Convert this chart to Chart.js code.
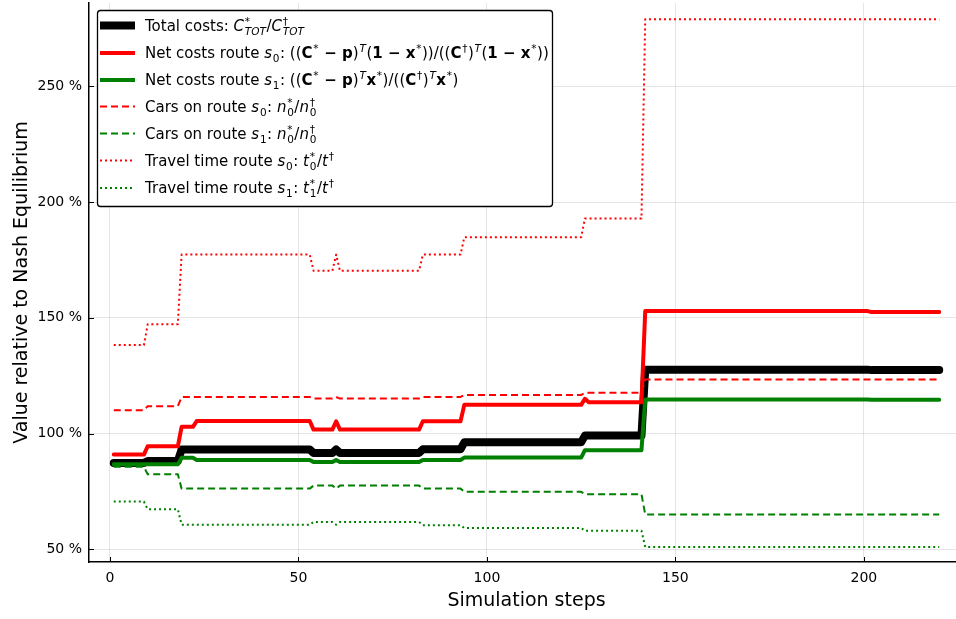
<!DOCTYPE html>
<html>
<head>
<meta charset="utf-8">
<script src="https://cdn.jsdelivr.net/npm/chart.js@4/dist/chart.umd.min.js"></script>
<style>
html,body{margin:0;padding:0;background:#fff;overflow:hidden;width:956px;height:619px;}
canvas{display:block;}
</style>
</head>
<body>
<canvas id="c" width="965" height="619" style="width:965px;height:619px"></canvas>
<script>
// Simulation steps at which the series change (breakpoints of the step curves)
const steps = [1, 9, 10, 18, 19, 22, 23, 53, 54, 59, 60, 61, 82, 83, 93, 94, 125, 126, 127, 141, 142, 201, 202, 220];

// Values (% of Nash equilibrium) at each breakpoint
const totalCosts    = [87.3, 87.3, 88.1, 88.1, 93.1, 93.1, 93.1, 93.1, 91.6, 91.6, 93.1, 91.6, 91.6, 93.2, 93.2, 96.2, 96.2, 99.1, 99.1, 99.1, 127.6, 127.6, 127.4, 127.4];
const netCostsS0    = [90.9, 90.9, 94.5, 94.5, 102.9, 102.9, 105.4, 105.4, 101.7, 101.7, 105.3, 101.7, 101.7, 105.3, 105.3, 112.4, 112.4, 115.0, 113.5, 113.5, 152.9, 152.9, 152.5, 152.5];
const netCostsS1    = [86.7, 86.7, 86.7, 86.7, 89.5, 89.5, 88.6, 88.6, 87.7, 87.7, 88.6, 87.7, 87.7, 88.6, 88.6, 89.6, 89.6, 92.8, 92.8, 92.8, 114.7, 114.7, 114.6, 114.6];
const carsS0        = [110.1, 110.1, 111.8, 111.8, 115.8, 115.8, 115.8, 115.8, 115.1, 115.1, 115.8, 115.1, 115.1, 115.8, 115.8, 116.7, 116.7, 117.6, 117.6, 117.6, 123.3, 123.3, 123.3, 123.3];
const carsS1        = [85.6, 85.6, 82.4, 82.4, 76.2, 76.2, 76.2, 76.2, 77.5, 77.5, 76.2, 77.5, 77.5, 76.2, 76.2, 74.8, 74.8, 73.8, 73.8, 73.8, 65.0, 65.0, 65.0, 65.0];
const travelTimeS0  = [138.2, 138.2, 147.2, 147.2, 177.3, 177.3, 177.3, 177.3, 170.3, 170.3, 177.3, 170.3, 170.3, 177.3, 177.3, 184.8, 184.8, 192.9, 192.9, 192.9, 279.0, 279.0, 279.0, 279.0];
const travelTimeS1  = [70.6, 70.6, 67.3, 67.3, 60.6, 60.6, 60.6, 60.6, 61.8, 61.8, 60.6, 61.8, 61.8, 60.4, 60.4, 59.2, 59.2, 58.0, 58.0, 58.0, 51.0, 51.0, 51.0, 51.0];

// Tick labels
const xTicks = [0, 50, 100, 150, 200];
const yTicks = [50, 100, 150, 200, 250];

// Legend labels as rich-text tokens
const legendLabels = [
  [{t:'Total costs: '},{t:'C',s:'i'},{sup:'*',sub:'TOT',subS:'i'},{t:'/'},{t:'C',s:'i'},{sup:'\u2020',sub:'TOT',subS:'i'}],
  [{t:'Net costs route '},{t:'s',s:'i'},{sub:'0'},{t:': (('},{t:'C',s:'b'},{sup:'*'},{t:' \u2212 ',s:'b'},{t:'p',s:'b'},{t:')'},{sup:'T',supS:'i'},{t:'('},{t:'1',s:'b'},{t:' \u2212 ',s:'b'},{t:'x',s:'b'},{sup:'*'},{t:'))/(('},{t:'C',s:'b'},{sup:'\u2020'},{t:')'},{sup:'T',supS:'i'},{t:'('},{t:'1',s:'b'},{t:' \u2212 ',s:'b'},{t:'x',s:'b'},{sup:'*'},{t:'))'}],
  [{t:'Net costs route '},{t:'s',s:'i'},{sub:'1'},{t:': (('},{t:'C',s:'b'},{sup:'*'},{t:' \u2212 ',s:'b'},{t:'p',s:'b'},{t:')'},{sup:'T',supS:'i'},{t:'x',s:'b'},{sup:'*'},{t:')/(('},{t:'C',s:'b'},{sup:'\u2020'},{t:')'},{sup:'T',supS:'i'},{t:'x',s:'b'},{sup:'*'},{t:')'}],
  [{t:'Cars on route '},{t:'s',s:'i'},{sub:'0'},{t:': '},{t:'n',s:'i'},{sup:'*',sub:'0'},{t:'/'},{t:'n',s:'i'},{sup:'\u2020',sub:'0'}],
  [{t:'Cars on route '},{t:'s',s:'i'},{sub:'1'},{t:': '},{t:'n',s:'i'},{sup:'*',sub:'0'},{t:'/'},{t:'n',s:'i'},{sup:'\u2020',sub:'0'}],
  [{t:'Travel time route '},{t:'s',s:'i'},{sub:'0'},{t:': '},{t:'t',s:'i'},{sup:'*',sub:'0'},{t:'/'},{t:'t',s:'i'},{sup:'\u2020'}],
  [{t:'Travel time route '},{t:'s',s:'i'},{sub:'1'},{t:': '},{t:'t',s:'i'},{sup:'*',sub:'1'},{t:'/'},{t:'t',s:'i'},{sup:'\u2020'}]
];

const FONT = '"DejaVu Sans", "Liberation Sans", sans-serif';
const pts = vals => steps.map((s, i) => ({x: s, y: vals[i]}));

function mk(label, vals, color, width, dash, order) {
  return {
    label, data: pts(vals), borderColor: color, backgroundColor: color,
    borderWidth: width, borderDash: dash, pointRadius: 0, pointHoverRadius: 0,
    tension: 0, fill: false, order,
    borderCapStyle: dash.length ? 'butt' : 'round', borderJoinStyle: 'round'
  };
}

const datasets = [
  mk('Total costs', totalCosts, '#000000', 8, [], 7),
  mk('Net costs route s0', netCostsS0, '#ff0000', 4, [], 6),
  mk('Net costs route s1', netCostsS1, '#008000', 4, [], 5),
  mk('Cars on route s0', carsS0, '#ff0000', 2, [7, 4], 4),
  mk('Cars on route s1', carsS1, '#008000', 2, [7, 4], 3),
  mk('Travel time route s0', travelTimeS0, '#ff0000', 2, [2, 3], 2),
  mk('Travel time route s1', travelTimeS1, '#008000', 2, [2, 3], 1)
];

function fontFor(style, size) {
  let f = '';
  if (style && style.includes('i')) f += 'italic ';
  if (style && style.includes('b')) f += 'bold ';
  return f + size + 'px ' + FONT;
}

function drawRich(ctx, tokens, x, y, S) {
  ctx.textAlign = 'left';
  ctx.textBaseline = 'alphabetic';
  ctx.fillStyle = '#000';
  const small = S * 0.7;
  for (const tok of tokens) {
    if (tok.t !== undefined) {
      ctx.font = fontFor(tok.s, S);
      ctx.fillText(tok.t, x, y);
      x += ctx.measureText(tok.t).width;
    } else {
      let w = 0;
      if (tok.sup !== undefined) {
        ctx.font = fontFor(tok.supS, small);
        ctx.fillText(tok.sup, x + 0.8, y - S * 0.42);
        w = Math.max(w, ctx.measureText(tok.sup).width);
      }
      if (tok.sub !== undefined) {
        ctx.font = fontFor(tok.subS, small);
        ctx.fillText(tok.sub, x + 0.8, y + S * 0.25);
        w = Math.max(w, ctx.measureText(tok.sub).width);
      }
      x += w + 1.3;
    }
  }
}

const legendPlugin = {
  id: 'richLegend',
  afterDatasetsDraw(chart) {
    const ctx = chart.ctx;
    const bx = 97.5, by = 10.5, bw = 455, bh = 196, r = 3;
    ctx.save();
    ctx.beginPath();
    ctx.moveTo(bx + r, by);
    ctx.arcTo(bx + bw, by, bx + bw, by + bh, r);
    ctx.arcTo(bx + bw, by + bh, bx, by + bh, r);
    ctx.arcTo(bx, by + bh, bx, by, r);
    ctx.arcTo(bx, by, bx + bw, by, r);
    ctx.closePath();
    ctx.fillStyle = '#fff';
    ctx.fill();
    ctx.lineWidth = 1.3;
    ctx.strokeStyle = '#000';
    ctx.stroke();
    const S = 15;
    const rowY = [25.5, 53, 80, 106.5, 133.5, 160.5, 188];
    chart.data.datasets.forEach((ds, i) => {
      const cy = rowY[i];
      ctx.beginPath();
      ctx.setLineDash(ds.borderDash);
      ctx.lineWidth = ds.borderWidth;
      ctx.strokeStyle = ds.borderColor;
      ctx.lineCap = 'butt';
      ctx.moveTo(100, cy);
      ctx.lineTo(135, cy);
      ctx.stroke();
      ctx.setLineDash([]);
      drawRich(ctx, legendLabels[i], 145, cy + S * 0.36, S);
    });
    ctx.restore();
  }
};

const innerTicks = {
  id: 'innerTicks',
  afterDraw(chart) {
    const ctx = chart.ctx;
    const xs = chart.scales.x, ys = chart.scales.y, a = chart.chartArea;
    ctx.save();
    ctx.strokeStyle = '#000';
    ctx.lineWidth = 1;
    ctx.beginPath();
    xTicks.forEach(v => {
      const px = Math.round(xs.getPixelForValue(v)) + 0.5;
      ctx.moveTo(px, a.bottom); ctx.lineTo(px, a.bottom - 5);
    });
    yTicks.forEach(v => {
      const py = Math.round(ys.getPixelForValue(v)) + 0.5;
      ctx.moveTo(a.left, py); ctx.lineTo(a.left + 5, py);
    });
    ctx.stroke();
    ctx.restore();
  }
};

new Chart(document.getElementById('c'), {
  type: 'line',
  data: { datasets },
  plugins: [legendPlugin, innerTicks],
  options: {
    responsive: false,
    animation: false,
    events: [],
    layout: { padding: { top: 3, right: 1, left: 0, bottom: 0 } },
    plugins: { legend: { display: false }, tooltip: { enabled: false } },
    scales: {
      x: {
        type: 'linear', min: -5.57, max: 226.57,
        afterBuildTicks: s => { s.ticks = xTicks.map(v => ({value: v})); },
        afterFit: s => { s.height = 57; s.paddingLeft = 0; s.paddingRight = 0; },
        grid: { color: 'rgba(0,0,0,0.1)', lineWidth: 1, drawTicks: false },
        border: { display: true, color: '#000', width: 1.5 },
        ticks: { padding: 8, color: '#000', font: { family: FONT, size: 14 }, maxRotation: 0, autoSkip: false },
        title: { display: true, text: 'Simulation steps', color: '#000', font: { family: FONT, size: 19 }, padding: { top: 0, bottom: 7 } }
      },
      y: {
        type: 'linear', min: 44.5, max: 286,
        afterBuildTicks: s => { s.ticks = yTicks.map(v => ({value: v})); },
        afterFit: s => { s.width = 89; s.paddingTop = 0; s.paddingBottom = 0; },
        grid: { color: 'rgba(0,0,0,0.1)', lineWidth: 1, drawTicks: false },
        border: { display: true, color: '#000', width: 1.5 },
        ticks: { padding: 7, color: '#000', font: { family: FONT, size: 14 }, callback: v => v + ' %' },
        title: { display: true, text: 'Value relative to Nash Equilibrium', color: '#000', font: { family: FONT, size: 19 }, padding: { top: 11, bottom: 0 } }
      }
    }
  }
});
</script>
</body>
</html>
